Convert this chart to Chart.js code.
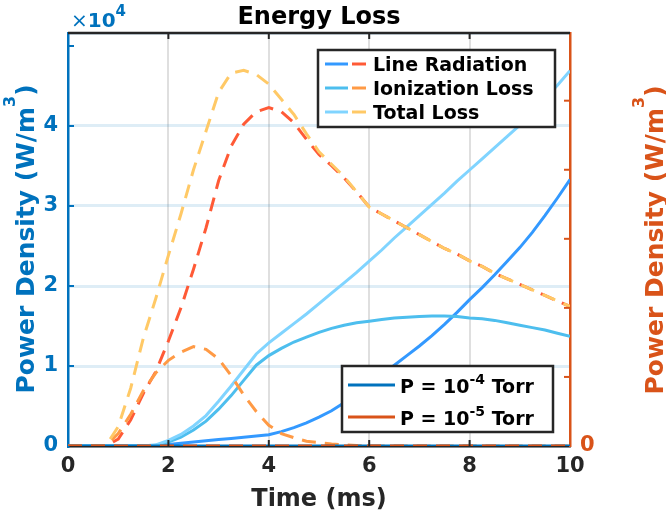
<!DOCTYPE html>
<html>
<head>
<meta charset="utf-8">
<script src="https://cdn.jsdelivr.net/npm/chart.js@4.4.0/dist/chart.umd.min.js"></script>
<style>
  html, body { margin: 0; padding: 0; background: #fff; }
  #wrap { position: relative; width: 666px; height: 515px; }
  #wrap canvas { position: absolute; left: 0; top: 0; }
  #overlay { pointer-events: none; }
</style>
</head>
<body>
<div id="wrap">
  <canvas id="lossChart" width="666" height="515"></canvas>
  <canvas id="overlay" width="666" height="515"></canvas>
</div>
<script>
// time axis (ms)
const time = [0, 0.25, 0.5, 0.75, 1, 1.25, 1.5, 1.75, 2, 2.25, 2.5, 2.75, 3, 3.25, 3.5, 3.75,
  4, 4.25, 4.5, 4.75, 5, 5.25, 5.5, 5.75, 6, 6.25, 6.5, 6.75, 7, 7.25, 7.5, 7.75,
  8, 8.25, 8.5, 8.75, 9, 9.25, 9.5, 9.75, 10];

// P = 1e-4 Torr, left axis, in units of 1e4 W/m^3
const lineRadHigh = [0, 0, 0, 0, 0, 0, 0, 0, 0.02, 0.035, 0.05, 0.065, 0.08, 0.095, 0.11, 0.125,
  0.14, 0.18, 0.23, 0.29, 0.36, 0.44, 0.54, 0.65, 0.77, 0.89, 1.01, 1.13, 1.25, 1.38, 1.52, 1.67,
  1.83, 1.98, 2.14, 2.31, 2.48, 2.67, 2.88, 3.10, 3.33];
const ionHigh = [0, 0, 0, 0, 0, 0, 0, 0.01, 0.05, 0.11, 0.2, 0.31, 0.46, 0.63, 0.82, 1.01,
  1.13, 1.22, 1.3, 1.36, 1.42, 1.47, 1.51, 1.54, 1.56, 1.58, 1.6, 1.61, 1.62, 1.625, 1.625, 1.62,
  1.6, 1.59, 1.57, 1.54, 1.51, 1.48, 1.45, 1.41, 1.37];
const totalHigh = [0, 0, 0, 0, 0, 0, 0, 0.015, 0.07, 0.145, 0.25, 0.38, 0.56, 0.75, 0.95, 1.15,
  1.29, 1.41, 1.53, 1.65, 1.78, 1.91, 2.04, 2.17, 2.31, 2.45, 2.6, 2.74, 2.88, 3.02, 3.16, 3.31,
  3.45, 3.59, 3.73, 3.87, 4.01, 4.17, 4.34, 4.51, 4.69];

// P = 1e-5 Torr, right axis, W/m^3
const lineRadLow = [0, 0, 0, 0, 5, 19, 38, 54, 76, 100, 128, 158, 192, 217, 233, 242,
  245, 242, 234, 222, 211, 203, 194, 184, 173, 168, 163, 158, 153, 148, 143, 139,
  134, 130, 125, 121, 117, 113, 109, 105, 101];
const ionLow = [0, 0, 0, 0, 9, 23, 40, 53, 62, 68, 72, 70, 63, 51, 37, 25,
  15, 9, 6, 3.5, 2.5, 1.5, 0.8, 0.4, 0, 0, 0, 0, 0, 0, 0, 0,
  0, 0, 0, 0, 0, 0, 0, 0, 0];
const totalLow = [0, 0, 0, 0, 14, 42, 78, 107, 138, 168, 200, 228, 256, 270, 272, 269,
  262, 251, 240, 226, 213, 204, 195, 184, 173, 168, 163, 158, 153, 148, 143, 139,
  134, 130, 125, 121, 117, 113, 109, 105, 101];

// legend placeholder series sitting on zero
const baselineTime = [0, 10];
const baselineValue = [0, 0];

const seriesNames = ["Line Radiation", "Ionization Loss", "Total Loss"];
const pressureExp = ["-4", "-5"];
const xTicks = [0, 2, 4, 6, 8, 10];
const leftTicks = [0, 1, 2, 3, 4, 5];
const rightTicks = [0, 50, 100, 150, 200, 250];

const leftColor = "#0072BD";
const rightColor = "#D95319";
const highColors = ["#3399FF", "#4DBEEE", "#80D4FF"];
const lowColors = ["#FF5A36", "#FF9A45", "#FFC966"];
const FONT = '"DejaVu Sans", sans-serif';

const pts = (xs, ys) => xs.map((t, i) => ({ x: t, y: ys[i] }));

const datasets = [
  { data: pts(baselineTime, baselineValue), yAxisID: "yLeft", borderColor: leftColor, borderWidth: 3, order: 1 },
  { data: pts(baselineTime, baselineValue), yAxisID: "yRight", borderColor: rightColor, borderWidth: 3, borderDash: [14, 9], order: 0 },
  { data: pts(time, totalLow), yAxisID: "yRight", borderColor: lowColors[2], borderWidth: 3, borderDash: [14, 9], order: 2 },
  { data: pts(time, ionLow), yAxisID: "yRight", borderColor: lowColors[1], borderWidth: 3, borderDash: [14, 9], order: 3 },
  { data: pts(time, lineRadLow), yAxisID: "yRight", borderColor: lowColors[0], borderWidth: 3, borderDash: [14, 9], order: 4 },
  { data: pts(time, totalHigh), yAxisID: "yLeft", borderColor: highColors[2], borderWidth: 3, order: 5 },
  { data: pts(time, ionHigh), yAxisID: "yLeft", borderColor: highColors[1], borderWidth: 3, order: 6 },
  { data: pts(time, lineRadHigh), yAxisID: "yLeft", borderColor: highColors[0], borderWidth: 3, order: 7 },
];

// keep a record of strokes, only shown if a dashed series came out solid
const chartCanvas = document.getElementById("lossChart");
const chartCtx = chartCanvas.getContext("2d");
const strokeLog = [];
const nativeStroke = chartCtx.stroke;
chartCtx.stroke = function (...args) {
  strokeLog.push(String(this.strokeStyle) + " " + JSON.stringify(this.getLineDash()));
  return nativeStroke.apply(this, args);
};

const tickFont = { family: FONT, size: 21, weight: "bold" };

const chart = new Chart(chartCanvas, {
  type: "line",
  data: { datasets },
  options: {
    responsive: false,
    animation: false,
    layout: { padding: { top: 33, left: 0, right: 0, bottom: 0 } },
    elements: { point: { radius: 0 }, line: { tension: 0 } },
    plugins: { legend: { display: false }, tooltip: { enabled: false } },
    scales: {
      x: {
        type: "linear",
        min: 0, max: 10,
        afterFit: s => { s.height = 69; },
        border: { color: "#262626", width: 2.5 },
        grid: { drawTicks: false, lineWidth: 2, color: "rgba(38,38,38,0.15)" },
        ticks: {
          stepSize: 2, padding: 8, color: "#262626", font: tickFont, maxRotation: 0,
          callback: v => xTicks.includes(v) ? v : ""
        }
      },
      yLeft: {
        type: "linear",
        position: "left",
        min: 0, max: 5.1625,
        afterFit: s => { s.width = 68; },
        border: { color: leftColor, width: 2.5 },
        grid: { drawTicks: false, lineWidth: 3, color: "rgba(0,114,189,0.13)" },
        ticks: {
          stepSize: 1, padding: 10, color: leftColor, font: tickFont,
          callback: v => leftTicks.includes(v) ? v : ""
        }
      },
      yRight: {
        type: "linear",
        position: "right",
        min: 0, max: 299,
        afterFit: s => { s.width = 96; },
        border: { color: rightColor, width: 2.5 },
        grid: { display: false, drawTicks: false },
        ticks: {
          stepSize: 50, padding: 10, color: rightColor, font: tickFont,
          callback: v => rightTicks.includes(v) ? v : ""
        }
      }
    }
  }
});

// ---- annotations on a canvas laid over the chart ----

// text with superscripts: runs of {text, font, rise}
function drawRuns(ctx, runs, x, y, align) {
  let w = 0;
  runs.forEach(r => { ctx.font = r.font; w += ctx.measureText(r.text).width; });
  let cx = align === "center" ? x - w / 2 : x;
  ctx.textAlign = "left";
  ctx.textBaseline = "alphabetic";
  runs.forEach(r => {
    ctx.font = r.font;
    ctx.fillText(r.text, cx, y - (r.rise || 0));
    cx += ctx.measureText(r.text).width;
  });
}

function seg(ctx, x1, y1, x2, y2) {
  ctx.beginPath();
  ctx.moveTo(x1, y1);
  ctx.lineTo(x2, y2);
  ctx.stroke();
}

function drawDecor() {
  const ctx = document.getElementById("overlay").getContext("2d");
  const a = chart.chartArea;
  const scales = chart.scales;
  const cx = (a.left + a.right) / 2;

  // top frame line
  ctx.lineWidth = 2.5;
  ctx.strokeStyle = "#262626";
  seg(ctx, a.left, a.top, a.right, a.top);

  // tick marks, pointing inward
  ctx.lineWidth = 2;
  xTicks.slice(1, -1).forEach(v => {
    const px = scales.x.getPixelForValue(v);
    seg(ctx, px, a.bottom, px, a.bottom - 6);
    seg(ctx, px, a.top, px, a.top + 6);
  });
  ctx.strokeStyle = leftColor;
  leftTicks.slice(1).forEach(v => {
    const py = scales.yLeft.getPixelForValue(v);
    seg(ctx, a.left, py, a.left + 6, py);
  });
  ctx.strokeStyle = rightColor;
  rightTicks.slice(1).forEach(v => {
    const py = scales.yRight.getPixelForValue(v);
    seg(ctx, a.right, py, a.right - 6, py);
  });

  // title and x label
  ctx.fillStyle = "#000";
  drawRuns(ctx, [{ text: "Energy Loss", font: "bold 24px " + FONT }], cx, 24, "center");
  ctx.fillStyle = "#262626";
  drawRuns(ctx, [{ text: "Time (ms)", font: "bold 24px " + FONT }], cx, 506, "center");

  // exponent label
  ctx.fillStyle = leftColor;
  drawRuns(ctx, [
    { text: "\u00d7", font: "20px " + FONT },
    { text: "10", font: "bold 20px " + FONT },
    { text: "4", font: "bold 15px " + FONT, rise: 11 },
  ], 71, 27, "left");

  // y axis titles
  const yTitle = [
    { text: "Power Density (W/m", font: "bold 25px " + FONT },
    { text: "3", font: "bold 16px " + FONT, rise: 19 },
    { text: ")", font: "bold 25px " + FONT },
  ];
  ctx.save();
  ctx.translate(34, 239);
  ctx.rotate(-Math.PI / 2);
  ctx.fillStyle = leftColor;
  drawRuns(ctx, yTitle, 0, 0, "center");
  ctx.restore();
  ctx.save();
  ctx.translate(663, 240);
  ctx.rotate(-Math.PI / 2);
  ctx.fillStyle = rightColor;
  drawRuns(ctx, yTitle, 0, 0, "center");
  ctx.restore();

  // legend: loss types
  ctx.fillStyle = "#fff";
  ctx.fillRect(318, 50, 237, 77);
  ctx.lineWidth = 2.5;
  ctx.strokeStyle = "#262626";
  ctx.strokeRect(318, 50, 237, 77);
  seriesNames.forEach((name, i) => {
    const ry = 64 + i * 24;
    ctx.lineWidth = 3;
    ctx.strokeStyle = highColors[i];
    seg(ctx, 325, ry, 348, ry);
    ctx.strokeStyle = lowColors[i];
    seg(ctx, 352, ry, 366, ry);
    ctx.fillStyle = "#000";
    drawRuns(ctx, [{ text: name, font: "bold 19px " + FONT }], 373, ry + 7, "left");
  });

  // legend: pressures
  ctx.fillStyle = "#fff";
  ctx.fillRect(342, 366, 211, 66);
  ctx.lineWidth = 2.5;
  ctx.strokeStyle = "#262626";
  ctx.strokeRect(342, 366, 211, 66);
  [leftColor, rightColor].forEach((col, i) => {
    const ry = 385 + i * 32;
    ctx.lineWidth = 3;
    ctx.strokeStyle = col;
    seg(ctx, 348, ry, 395, ry);
    ctx.fillStyle = "#000";
    drawRuns(ctx, [
      { text: "P = 10", font: "bold 19px " + FONT },
      { text: pressureExp[i], font: "bold 14px " + FONT, rise: 9 },
      { text: " Torr", font: "bold 19px " + FONT },
    ], 400, ry + 8, "left");
  });

  // diagnostics, only when a dashed series was stroked solid
  const lowSet = lowColors.map(c => c.toLowerCase());
  const uniq = [...new Set(strokeLog)];
  const bad = uniq.filter(s => lowSet.includes(s.split(" ")[0]) && s.endsWith("[]"));
  if (bad.length) {
    ctx.fillStyle = "#888";
    ctx.font = "9px monospace";
    ctx.textAlign = "left";
    for (let i = 0; i < uniq.length; i += 3) {
      ctx.fillText(uniq.slice(i, i + 3).join(" | "), 395, 472 + (i / 3) * 10);
    }
  }
}

drawDecor();
</script>
</body>
</html>
